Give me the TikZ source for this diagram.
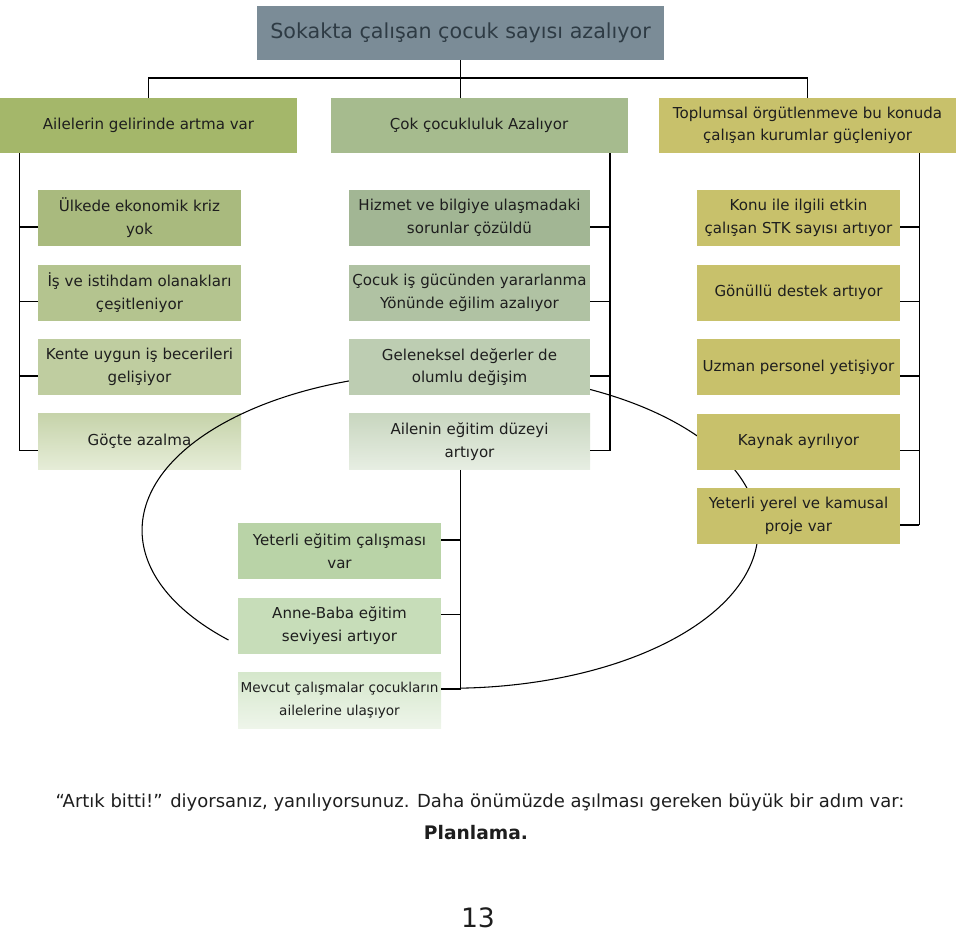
\documentclass[tikz,border=0pt]{standalone}
\usepackage{fontspec}
\setmainfont{DejaVu Sans}
\usepackage{xcolor}
\usepackage{tikz}
\usetikzlibrary{calc, positioning}
\definecolor{titleSlate}{HTML}{7B8C97}
\definecolor{titleInk}{HTML}{2E3B44}
\definecolor{oliveHead}{HTML}{A4B76A}
\definecolor{sageHead}{HTML}{A6BB8E}
\definecolor{khaki}{HTML}{C8C16B}
\definecolor{oliveA}{HTML}{A9BA7E}
\definecolor{oliveB}{HTML}{B4C48F}
\definecolor{oliveC}{HTML}{BFCDA0}
\definecolor{oliveD}{HTML}{C6D3AA}
\definecolor{oliveE}{HTML}{E6EDD8}
\definecolor{sageA}{HTML}{A2B694}
\definecolor{sageB}{HTML}{B0C2A3}
\definecolor{sageC}{HTML}{BDCDB2}
\definecolor{sageD}{HTML}{C8D6BF}
\definecolor{sageE}{HTML}{E7EEE3}
\definecolor{mintA}{HTML}{B9D3A7}
\definecolor{mintB}{HTML}{C7DDB9}
\definecolor{mintC}{HTML}{D5E7CB}
\definecolor{mintD}{HTML}{EEF5EA}
\definecolor{inkDark}{HTML}{1E1E1E}
\newcommand{\boxfont}{\fontsize{11.3}{17}\selectfont}

\begin{document}
\begin{tikzpicture}[
    x=0.75pt, y=-0.75pt,
    node distance=13.5pt,
    box/.style={rectangle, minimum height=42pt, align=center, inner sep=2pt, font=\boxfont, text=inkDark},
    lbox/.style={box, minimum width=152.25pt},
    mbox/.style={box, minimum width=180.75pt},
    headbox/.style={box, minimum width=222.75pt, minimum height=41.25pt},
    conn/.style={line width=1.1pt, black},
    loop/.style={line width=0.8pt, black}
]
\useasboundingbox (0,0) rectangle (960,936);

% Title and first row
\node[box, fill=titleSlate, text=titleInk, minimum width=305.25pt, minimum height=40.5pt,
      font=\fontsize{15.5}{18}\selectfont] (title) at (460.5,33) {Sokakta çalışan çocuk sayısı azalıyor};
\node[headbox, fill=oliveHead] (A) at (148.5,125.5) {Ailelerin gelirinde artma var};
\node[headbox, fill=sageHead] (B) at (479,125.5) {Çok çocukluluk Azalıyor};
\node[headbox, fill=khaki] (C) at (807.5,125.5) {Toplumsal örgütlenmeve bu konuda\\çalışan kurumlar güçleniyor};

% Left column
\node[lbox, fill=oliveA] (ulke) at (139.5,218) {Ülkede ekonomik kriz\\yok};
\node[lbox, fill=oliveB, below=of ulke] (istih) {İş ve istihdam olanakları\\çeşitleniyor};
\node[lbox, fill=oliveC, below=of istih] (kente) {Kente uygun iş becerileri\\gelişiyor};
\node[lbox, top color=oliveD, bottom color=oliveE, below=of kente] (goc) {Göçte azalma};

% Loop behind the other boxes
\coordinate (loopstart) at (228.5,640);
\draw[loop] (loopstart) arc[start angle=224, end angle=-88, x radius=231pt, y radius=118.5pt];

% Middle column
\node[mbox, fill=sageA] (hiz) at (469.5,218) {Hizmet ve bilgiye ulaşmadaki\\sorunlar çözüldü};
\node[mbox, fill=sageB, below=of hiz] (cocuk) {Çocuk iş gücünden yararlanma\\Yönünde eğilim azalıyor};
\node[mbox, fill=sageC, below=of cocuk] (gelen) {Geleneksel değerler de\\olumlu değişim};
\node[mbox, top color=sageD, bottom color=sageE, below=of gelen] (ailen) {Ailenin eğitim düzeyi\\artıyor};

% Lower column
\node[lbox, fill=mintA] (yeg) at (339.5,551) {Yeterli eğitim çalışması\\var};
\node[lbox, fill=mintB, below=of yeg] (anne) {Anne-Baba eğitim\\seviyesi artıyor};
\node[lbox, top color=mintC, bottom color=mintD, below=of anne, inner xsep=1pt,
      font=\fontsize{10.2}{17}\selectfont] (mev) {Mevcut çalışmalar çocukların\\ailelerine ulaşıyor};

% Right column
\node[lbox, fill=khaki] (kon) at (798.5,218) {Konu ile ilgili etkin\\çalışan STK sayısı artıyor};
\node[lbox, fill=khaki, below=of kon] (gon) {Gönüllü destek artıyor};
\node[lbox, fill=khaki, below=of gon] (uzm) {Uzman personel yetişiyor};
\node[lbox, fill=khaki, below=of uzm] (kay) {Kaynak ayrılıyor};
\node[lbox, fill=khaki, below=of kay] (yyer) {Yeterli yerel ve kamusal\\proje var};

% Tree lines
\coordinate (bus) at (460.5,78);
\draw[conn] (title.south) -- (title.south |- B.north);
\draw[conn] (A.north) |- (bus) -| (C.north);

\coordinate (lspine) at ($(A.south west)+(20,0)$);
\foreach \n in {ulke,istih,kente,goc} {
  \coordinate (t-\n) at ($(\n.west)+(0,9)$);
  \draw[conn] (t-\n) -- (lspine |- t-\n);
}
\draw[conn] (lspine) -- (lspine |- t-goc);

\coordinate (mspine) at ($(B.south east)+(-18,0)$);
\foreach \n in {hiz,cocuk,gelen,ailen} {
  \coordinate (t-\n) at ($(\n.east)+(0,9)$);
  \draw[conn] (t-\n) -- (mspine |- t-\n);
}
\draw[conn] (mspine) -- (mspine |- t-ailen);

\coordinate (rspine) at ($(C.south east)+(-37,0)$);
\foreach \n in {kon,gon,uzm,kay,yyer} {
  \coordinate (t-\n) at ($(\n.east)+(0,9)$);
  \draw[conn] (t-\n) -- (rspine |- t-\n);
}
\draw[conn] (rspine) -- (rspine |- t-yyer);

\coordinate (lowspine) at ($(ailen.south)+(-9,0)$);
\foreach \n in {yeg,anne,mev} {
  \coordinate (t-\n) at ($(\n.east)+(0,-11)$);
  \draw[conn] (t-\n) -- (lowspine |- t-\n);
}
\draw[conn] (lowspine) -- (lowspine |- t-mev);

% Closing words
\node[font=\fontsize{13.5}{16}\selectfont, text=inkDark] (cap) at (480,803)
  {“Artık bitti!” diyorsanız, yanılıyorsunuz. Daha önümüzde aşılması gereken büyük bir adım var:};
\node[font=\fontsize{14}{17}\selectfont\bfseries, text=inkDark] (plan) at (476,833) {Planlama.};
\node[font=\fontsize{20}{24}\selectfont, text=inkDark] (page) at (478,918) {13};
\end{tikzpicture}
\end{document}
